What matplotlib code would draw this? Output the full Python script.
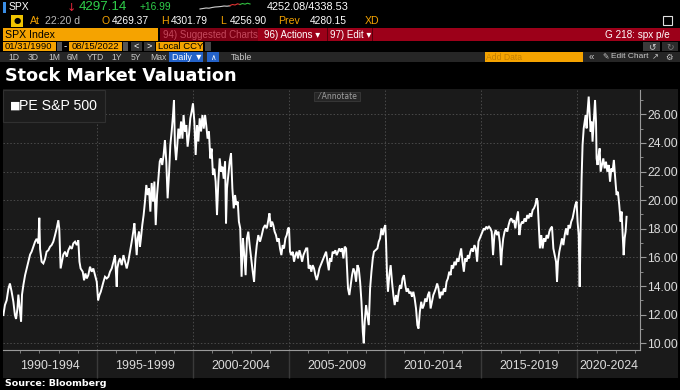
import matplotlib
matplotlib.use("Agg")
import matplotlib.pyplot as plt
from matplotlib.patches import Rectangle
from matplotlib.ticker import MultipleLocator, FormatStrFormatter
import matplotlib.transforms as mtrans

# ---------------- data (decimal year, PE) ----------------
pe_1990_1996 = [(1990.12,11.97),(1990.20,12.67),(1990.29,13.0),(1990.38,13.8),(1990.46,14.18),(1990.55,13.6),(1990.64,12.9),(1990.72,11.97),(1990.78,11.7),(1990.85,12.4),(1990.90,13.4),(1990.99,12.2),(1991.04,11.5),(1991.09,13.4),(1991.16,14.07),(1991.25,14.76),(1991.33,15.2),(1991.42,15.7),(1991.51,16.2),(1991.59,16.4),(1991.68,16.75),(1991.77,17.1),(1991.85,17.3),(1991.94,16.98),(1991.99,18.77),(1992.03,16.6),(1992.11,15.7),(1992.20,15.58),(1992.29,15.9),(1992.37,16.4),(1992.46,16.5),(1992.55,16.75),(1992.63,16.86),(1992.72,17.1),(1992.81,17.56),(1992.89,18.0),(1992.98,18.6),(1993.03,18.0),(1993.07,16.4),(1993.10,15.23),(1993.17,15.7),(1993.24,16.2),(1993.33,16.4),(1993.42,16.05),(1993.50,16.5),(1993.59,16.75),(1993.68,16.6),(1993.76,16.98),(1993.85,17.1),(1993.94,16.86),(1994.02,17.2),(1994.08,15.7),(1994.14,15.23),(1994.25,15.0),(1994.32,14.4),(1994.39,14.88),(1994.46,14.53),(1994.54,14.76),(1994.63,15.35),(1994.72,15.0),(1994.80,15.23),(1994.89,14.76),(1994.98,14.3),(1995.05,13.0),(1995.12,13.37),(1995.19,13.6),(1995.26,13.95),(1995.33,14.3),(1995.41,14.65),(1995.50,14.53),(1995.59,14.65),(1995.67,15.0),(1995.76,15.23),(1995.85,15.7),(1995.93,16.16),(1996.02,13.95),(1996.05,15.23),(1996.12,15.7),(1996.19,15.93),(1996.28,15.46),(1996.37,16.16)]
pe_1996_2002 = [(1996.54,15.23),(1996.62,15.7),(1996.71,16.4),(1996.80,17.1),(1996.88,17.8),(1996.94,18.38),(1997.01,17.1),(1997.06,16.16),(1997.11,17.33),(1997.18,17.8),(1997.23,16.75),(1997.28,17.33),(1997.35,18.26),(1997.42,18.96),(1997.49,19.9),(1997.56,21.06),(1997.63,20.36),(1997.70,20.83),(1997.77,19.2),(1997.84,21.2),(1997.91,19.9),(1997.98,21.3),(1998.05,18.26),(1998.12,20.36),(1998.19,21.5),(1998.26,22.7),(1998.32,22.92),(1998.39,22.46),(1998.46,23.16),(1998.53,24.2),(1998.60,22.7),(1998.67,20.13),(1998.74,21.76),(1998.81,23.86),(1998.88,24.8),(1998.95,25.95),(1999.00,27.0),(1999.05,23.86),(1999.11,22.8),(1999.16,23.6),(1999.23,25.0),(1999.30,24.3),(1999.37,25.5),(1999.44,24.3),(1999.50,25.95),(1999.57,24.8),(1999.64,25.25),(1999.71,23.74),(1999.78,24.55),(1999.85,25.72),(1999.92,26.2),(1999.99,26.77),(2000.06,25.5),(2000.13,23.16),(2000.20,25.25),(2000.27,24.1),(2000.34,25.72),(2000.41,24.8),(2000.48,25.95),(2000.55,25.0),(2000.62,25.95),(2000.68,25.25),(2000.75,24.3),(2000.82,24.8),(2000.89,22.92),(2000.96,23.6),(2001.03,21.76),(2001.10,22.2),(2001.17,21.3),(2001.24,18.96),(2001.31,21.3),(2001.38,22.92),(2001.45,21.99),(2001.52,22.34),(2001.59,21.5),(2001.66,22.7),(2001.71,18.38),(2001.76,20.83),(2001.83,21.76),(2001.90,22.7),(2001.97,23.27),(2002.04,20.83),(2002.11,19.43),(2002.18,20.36),(2002.25,19.66),(2002.32,19.9),(2002.38,18.5),(2002.45,18.03),(2002.52,14.65),(2002.59,17.33),(2002.66,16.16),(2002.73,14.76),(2002.80,17.33),(2002.87,17.8),(2002.94,16.86)]
pe_2003_2009 = [(2003.10,15.0),(2003.17,14.3),(2003.24,15.93),(2003.31,16.86),(2003.39,17.56),(2003.48,17.1),(2003.57,17.56),(2003.65,18.03),(2003.74,18.26),(2003.83,18.03),(2003.91,18.6),(2003.97,19.08),(2004.04,18.15),(2004.11,18.5),(2004.17,18.26),(2004.24,17.8),(2004.31,17.56),(2004.38,17.1),(2004.45,17.33),(2004.52,16.63),(2004.59,16.16),(2004.66,16.86),(2004.73,16.63),(2004.80,17.33),(2004.87,17.56),(2004.94,18.03),(2004.99,18.07),(2005.04,16.4),(2005.11,16.16),(2005.18,16.4),(2005.25,15.7),(2005.32,16.16),(2005.39,16.4),(2005.46,15.93),(2005.53,16.5),(2005.60,16.16),(2005.67,15.7),(2005.74,16.16),(2005.81,16.4),(2005.88,16.63),(2005.94,16.63),(2006.01,15.23),(2006.08,15.46),(2006.15,15.0),(2006.22,15.46),(2006.29,15.23),(2006.36,14.76),(2006.43,14.42),(2006.50,14.76),(2006.57,15.23),(2006.64,15.46),(2006.71,15.7),(2006.78,15.93),(2006.85,16.16),(2006.92,16.4),(2006.99,15.7),(2007.06,15.1),(2007.12,15.93),(2007.19,15.7),(2007.26,16.4),(2007.33,16.28),(2007.40,16.5),(2007.47,16.16),(2007.54,16.4),(2007.61,16.63),(2007.68,16.4),(2007.75,16.63),(2007.82,15.93),(2007.89,16.75),(2007.96,16.63),(2008.00,15.46),(2008.06,13.83),(2008.13,13.37),(2008.20,14.07),(2008.27,14.76),(2008.34,15.23),(2008.41,15.0),(2008.48,14.3),(2008.55,15.46),(2008.62,15.23),(2008.69,14.3),(2008.76,12.9),(2008.83,10.8),(2008.88,10.0),(2008.93,11.5),(2009.00,12.67),(2009.07,11.97),(2009.14,11.27),(2009.21,13.83),(2009.28,15.0),(2009.35,15.93),(2009.41,16.4)]
pe_2009_2016 = [(2009.59,16.63),(2009.66,17.1),(2009.73,17.33),(2009.80,18.03),(2009.87,17.56),(2009.94,18.03),(2010.00,18.26),(2010.04,17.1),(2010.09,14.76),(2010.14,13.6),(2010.21,14.76),(2010.28,15.46),(2010.35,14.3),(2010.42,13.37),(2010.49,12.67),(2010.56,13.37),(2010.63,12.9),(2010.70,13.6),(2010.77,14.07),(2010.83,13.83),(2010.90,14.53),(2010.97,14.76),(2011.04,14.07),(2011.11,13.6),(2011.18,13.83),(2011.25,13.48),(2011.32,13.6),(2011.39,13.25),(2011.46,13.6),(2011.53,13.13),(2011.60,12.43),(2011.67,11.27),(2011.73,11.03),(2011.80,12.2),(2011.87,12.9),(2011.94,12.43),(2012.01,12.67),(2012.08,13.13),(2012.15,12.9),(2012.22,13.37),(2012.29,13.6),(2012.36,12.43),(2012.43,12.9),(2012.50,13.37),(2012.57,13.6),(2012.63,13.83),(2012.70,14.18),(2012.77,13.83),(2012.84,13.13),(2012.91,13.6),(2012.98,13.37),(2013.05,13.83),(2013.12,13.6),(2013.19,14.3),(2013.26,14.53),(2013.33,15.0),(2013.40,14.76),(2013.46,15.46),(2013.53,15.23),(2013.60,15.7),(2013.67,15.46),(2013.74,15.93),(2013.81,15.7),(2013.88,16.16),(2013.95,16.63),(2014.02,15.7),(2014.09,15.0),(2014.16,15.93),(2014.23,15.7),(2014.30,16.16),(2014.36,15.93),(2014.43,16.4),(2014.50,16.63),(2014.57,16.4),(2014.64,16.86),(2014.71,16.63),(2014.78,15.7),(2014.85,17.1),(2014.92,17.33),(2014.99,17.56),(2015.06,17.8),(2015.13,18.03),(2015.19,17.92),(2015.26,18.15),(2015.33,18.03),(2015.40,18.15),(2015.47,18.03),(2015.54,17.8),(2015.61,16.16),(2015.68,17.56),(2015.75,17.92),(2015.82,17.56),(2015.89,17.8),(2015.96,17.1),(2016.03,15.46)]
pe_2016_2022 = [(2016.07,16.4),(2016.14,17.33),(2016.21,17.8),(2016.28,18.03),(2016.35,17.8),(2016.42,18.26),(2016.49,18.6),(2016.56,18.73),(2016.63,18.5),(2016.70,18.6),(2016.77,18.03),(2016.84,18.73),(2016.91,19.2),(2016.98,17.56),(2017.05,18.26),(2017.12,18.5),(2017.18,18.38),(2017.25,18.73),(2017.32,18.5),(2017.39,18.96),(2017.46,18.73),(2017.53,19.08),(2017.60,18.84),(2017.67,19.31),(2017.74,19.43),(2017.81,19.66),(2017.88,20.13),(2017.93,19.9),(2017.98,18.5),(2018.05,16.63),(2018.12,17.56),(2018.19,16.63),(2018.26,17.33),(2018.33,17.1),(2018.40,17.56),(2018.47,17.33),(2018.54,17.8),(2018.61,18.03),(2018.68,18.15),(2018.75,16.63),(2018.82,16.16),(2018.89,15.7),(2018.94,14.3),(2018.99,15.7),(2019.06,16.4),(2019.13,16.86),(2019.20,17.33),(2019.27,16.86),(2019.34,17.56),(2019.41,18.03),(2019.48,17.56),(2019.54,18.26),(2019.61,18.03),(2019.68,18.5),(2019.75,18.73),(2019.82,19.2),(2019.89,19.66),(2019.96,19.9),(2020.01,18.5),(2020.07,17.56),(2020.12,13.95),(2020.17,18.03),(2020.22,21.53),(2020.27,23.86),(2020.33,25.02),(2020.38,25.49),(2020.43,25.95),(2020.48,25.02),(2020.53,26.19),(2020.59,27.24),(2020.64,25.95),(2020.69,24.79),(2020.74,25.49),(2020.79,24.09),(2020.85,25.49),(2020.92,27.0),(2020.97,25.49),(2021.00,22.92),(2021.05,22.46),(2021.11,23.16),(2021.16,23.62),(2021.21,21.99),(2021.28,22.46),(2021.35,22.92),(2021.42,22.22),(2021.49,22.69),(2021.56,21.99),(2021.63,22.46),(2021.70,21.29),(2021.77,22.22),(2021.83,21.99),(2021.90,22.81),(2021.97,21.53),(2022.04,20.36),(2022.11,20.59),(2022.18,19.66),(2022.25,18.5),(2022.30,19.2),(2022.36,17.56),(2022.41,16.16),(2022.46,17.33),(2022.51,17.8),(2022.56,18.84)]

period_labels = ["1990-1994", "1995-1999", "2000-2004", "2005-2009", "2010-2014", "2015-2019", "2020-2024"]
period_starts = [1990, 1995, 2000, 2005, 2010, 2015, 2020]
y_ticks = [10, 12, 14, 16, 18, 20, 22, 24, 26]
x_range = (1990.1, 2023.26)
y_range = (9.53, 27.7)

spark_white = [9, 8.5, 8, 8.2, 7.5, 7, 6.8, 6.5, 6, 6.2, 5.8]
spark_color = [5.5, 4.5, 5, 3.8, 4.5, 3.5, 4.2, 3.2, 4]

series = pe_1990_1996 + pe_1996_2002 + pe_2003_2009 + pe_2009_2016 + pe_2016_2022
years = [p[0] for p in series]
pe = [p[1] for p in series]

# ---------------- figure ----------------
W, H = 680, 390
fig = plt.figure(figsize=(W / 100, H / 100), dpi=100, facecolor="black")

ORANGE = "#f5a300"
RED = "#9c0019"
FONT = "Liberation Sans"


def rect(x, y, w, h, color, ec="none", lw=0, z=1):
    fig.add_artist(Rectangle((x / W, 1 - (y + h) / H), w / W, h / H,
                             transform=fig.transFigure, facecolor=color,
                             edgecolor=ec, linewidth=lw, zorder=z))


def txt(x, y, s, color="white", size=9, weight="normal", ha="left", family=FONT, z=6):
    fig.text(x / W, 1 - y / H, s, color=color, fontsize=size, fontweight=weight,
             ha=ha, va="center", family=[family, "DejaVu Sans"], zorder=z)


# row 1
rect(3, 2, 3, 11, "#3a8ee6")
txt(9, 7.5, "SPX", size=7.5)
txt(67, 7.5, "\u2193", color="#e8283c", size=8, family="DejaVu Sans")
txt(79, 7.5, "4297.14", color="#2fd04a", size=9.6)
txt(139, 7.5, "+16.99", color="#2fd04a", size=7.4)
sx = [200 + i * 3 for i in range(len(spark_white))]
fig.add_artist(plt.Line2D([x / W for x in sx], [1 - v / H for v in spark_white],
                          transform=fig.transFigure, color="#d0d0d0", lw=0.8))
cx = [sx[-1] + i * 2.5 for i in range(len(spark_color))]
fig.add_artist(plt.Line2D([x / W for x in cx[:5]], [1 - v / H for v in spark_color[:5]],
                          transform=fig.transFigure, color="#e03030", lw=0.8))
fig.add_artist(plt.Line2D([x / W for x in cx[4:]], [1 - v / H for v in spark_color[4:]],
                          transform=fig.transFigure, color="#30c040", lw=0.8))
txt(267, 7.5, "4252.08/4338.53", size=7.8)

# row 2
rect(11, 15, 12, 12, "#f0c400")
txt(17, 21, "\u25cf", color="black", size=6, ha="center", family="DejaVu Sans")
txt(30, 21, "At", color=ORANGE, size=7.6)
txt(45, 21, "22:20 d", color="#b8b8b8", size=7.6)
txt(102, 21, "O", color=ORANGE, size=7.6)
txt(112, 21, "4269.37", size=7.4)
txt(161, 21, "H", color=ORANGE, size=7.6)
txt(171, 21, "4301.79", size=7.4)
txt(220, 21, "L", color=ORANGE, size=7.6)
txt(230, 21, "4256.90", size=7.4)
txt(278, 21, "Prev", color=ORANGE, size=7.6)
txt(310, 21, "4280.15", size=7.4)
txt(365, 21, "XD", color=ORANGE, size=7.6)
rect(663, 16, 9, 9, "none", ec="#e0e0e0", lw=0.8)

# row 3
rect(3, 28, 155, 13, ORANGE)
txt(5, 34.5, "SPX Index", color="black", size=7.6)
rect(160, 28, 520, 13, RED)
rect(160, 28, 98, 13, "#7e0014")
txt(163, 34.5, "94) Suggested Charts", color="#c4485c", size=7)
txt(264, 34.5, "96) Actions \u25be", size=7)
rect(327, 28, 1, 13, "#5a000c", z=2)
txt(330, 34.5, "97) Edit \u25be", size=7)
rect(372, 28, 1, 13, "#5a000c", z=2)
txt(670, 34.5, "G 218: spx p/e", size=7.2, ha="right")

# row 4
rect(3, 42, 53, 9, ORANGE)
txt(5, 46.5, "01/31/1990", color="black", size=6.8)
rect(57, 42, 5, 9, "#555555")
txt(64, 46.5, "-", size=7)
rect(69, 42, 53, 9, ORANGE)
txt(72, 46.5, "08/15/2022", color="black", size=6.8)
rect(123, 42, 5, 9, "#555555")
rect(131, 42, 11, 9, "#333333")
txt(136.5, 46.5, "<", size=6.5, ha="center")
rect(144, 42, 11, 9, "#333333")
txt(149.5, 46.5, ">", size=6.5, ha="center")
rect(156, 42, 47, 9, ORANGE)
txt(158, 46.5, "Local CCY", color="black", size=6.8)
rect(205, 42, 6, 9, "#444444")
rect(643, 42, 17, 9, "#3a3a3a")
txt(651.5, 46.5, "\u21ba", color="#d0d0d0", size=6.5, ha="center", family="DejaVu Sans")
rect(662, 42, 16, 9, "#2c2c2c")
txt(670, 46.5, "\u21bb", color="#808080", size=6.5, ha="center", family="DejaVu Sans")

# row 5
rect(0, 52, 680, 10, "#262626")
for lab, x in zip(["1D", "3D", "1M", "6M", "YTD", "1Y", "5Y", "Max"],
                  [8, 28, 48, 67, 87, 111, 131, 150]):
    txt(x, 57, lab, color="#c8c8c8", size=6.2)
rect(169, 52, 34, 10, "#2462c8")
txt(172, 57, "Daily \u25bc", size=6.4)
rect(207, 52, 12, 10, "#2462c8")
txt(213, 57, "\u2227", size=5.5, ha="center", family="DejaVu Sans")
txt(231, 57, "Table", color="#c8c8c8", size=6.4)
rect(485, 52, 98, 10, ORANGE)
txt(486, 57, "Add Data", color="#c47f00", size=6.2)
txt(589, 57, "\u00ab", color="#c8c8c8", size=7)
txt(602, 57, "\u270e", color="#c8c8c8", size=5.5, family="DejaVu Sans")
txt(611, 57, "Edit Chart", color="#c8c8c8", size=6)
txt(652, 57, "\u2197", color="#c8c8c8", size=6, family="DejaVu Sans")
txt(665, 57, "\u2699", color="#c8c8c8", size=6, family="DejaVu Sans")

# title
txt(5, 76, "Stock Market Valuation", size=12.7, weight="bold", family="DejaVu Sans")

# chart panel background
rect(3, 89, 675, 289, "#1a1a1a", z=-1)

# ---------------- axes ----------------
ax = fig.add_axes([3 / W, 1 - 350 / H, 637 / W, 260 / H])
ax.set_facecolor("#1a1a1a")
ax.plot(years, pe, color="white", lw=1.4, solid_joinstyle="miter", zorder=3)
ax.set_xlim(*x_range)
ax.set_ylim(*y_range)

for s in ["top", "left"]:
    ax.spines[s].set_visible(False)
ax.spines["right"].set_color("#9a9a9a")
ax.spines["bottom"].set_color("#9a9a9a")
ax.spines["right"].set_linewidth(0.8)
ax.spines["bottom"].set_linewidth(0.8)

ax.yaxis.tick_right()
ax.set_yticks(y_ticks)
ax.yaxis.set_major_formatter(FormatStrFormatter("%.2f"))
ax.yaxis.set_minor_locator(MultipleLocator(1))
ax.tick_params(axis="y", which="major", direction="out", length=4, width=0.8,
               color="#9a9a9a", labelcolor="#dcdcdc", labelsize=8.7, pad=1)
ax.tick_params(axis="y", which="minor", direction="out", length=2, width=0.6,
               color="#9a9a9a")
for lab in ax.get_yticklabels():
    lab.set_family(FONT)

ax.set_xticks(period_starts[1:])
ax.set_xticklabels([])
ax.xaxis.set_minor_locator(MultipleLocator(1))
ax.tick_params(axis="x", which="major", direction="out", length=20, width=1,
               color="#3a3a3a")
ax.tick_params(axis="x", which="minor", direction="out", length=2.5, width=0.6,
               color="#8a8a8a")

for v in y_ticks:
    ax.axhline(v, color="#4a4a4a", lw=0.7, ls=(0, (1.5, 2)), zorder=1)
for v in period_starts[1:]:
    ax.axvline(v, color="#4a4a4a", lw=0.7, ls=(0, (1.5, 2)), zorder=1)

trans = mtrans.blended_transform_factory(ax.transData, ax.transAxes)
for lab, start in zip(period_labels, period_starts):
    lo = max(start, x_range[0])
    hi = min(start + 5, x_range[1])
    ax.text((lo + hi) / 2, -16 / 260, lab, transform=trans, ha="center", va="center",
            color="#dcdcdc", fontsize=8.9, family=FONT, clip_on=False)

# legend box
rect(3, 90, 102, 32, "#1c1c1c", ec="#303030", lw=0.8, z=5)
txt(10, 106, "\u25a0", size=8, family="DejaVu Sans")
txt(19, 106, "PE S&P 500", size=10.2)

# annotate button
rect(314, 92, 46, 9, "#262626", ec="#3a3a3a", lw=0.6, z=5)
txt(318, 96.5, "\u2044 Annotate", color="#a0a0a0", size=5.5, family="DejaVu Sans")

# source
txt(5, 383, "Source: Bloomberg", size=6.8, weight="bold", family="DejaVu Sans")

fig.savefig("out.png", dpi=100, facecolor="black")
